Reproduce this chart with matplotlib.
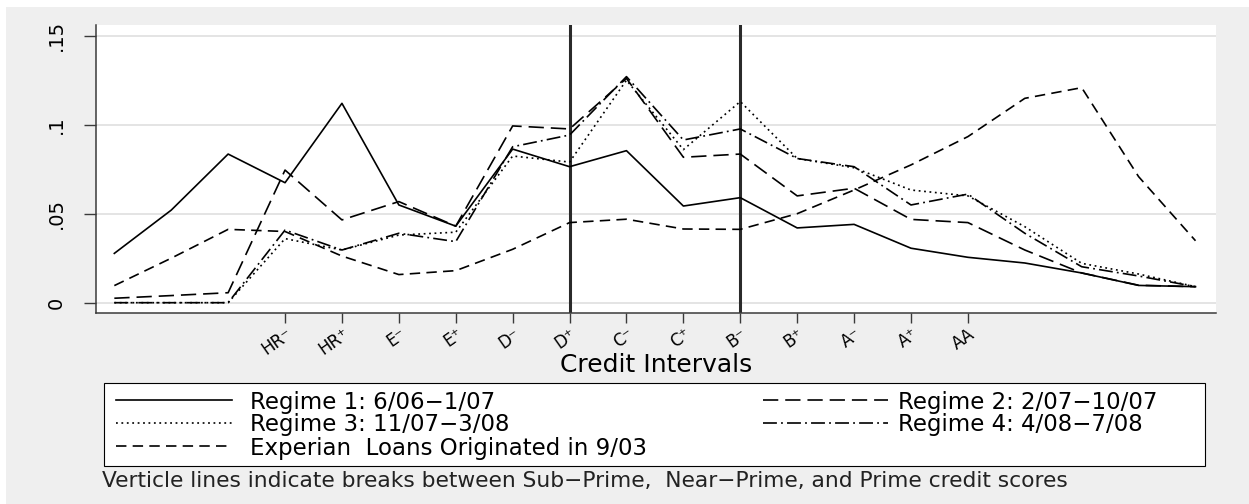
import matplotlib
matplotlib.use("Agg")
import matplotlib.pyplot as plt
from matplotlib.patches import Rectangle

plt.rcParams['lines.scale_dashes'] = False
plt.rcParams['font.family'] = ['DejaVu Sans']

# ---- data ----
positions = list(range(1, 21))
tick_positions = list(range(4, 17))
tick_labels = ["HR⁻", "HR⁺", "E⁻", "E⁺", "D⁻", "D⁺", "C⁻", "C⁺", "B⁻", "B⁺", "A⁻", "A⁺", "AA"]
break_positions = [9, 12]

regime1 = [0.0277, 0.052, 0.0835, 0.0674, 0.112, 0.0549, 0.043, 0.0863, 0.0764, 0.0854,
           0.0543, 0.059, 0.042, 0.044, 0.0306, 0.0255, 0.0223, 0.0167, 0.0097, 0.009]
regime2 = [0.0025, 0.004, 0.0056, 0.0745, 0.0465, 0.0568, 0.043, 0.0993, 0.0976, 0.126,
           0.0817, 0.0835, 0.060, 0.0643, 0.0468, 0.045, 0.0296, 0.0167, 0.0098, 0.009]
regime3 = [0.0, 0.0, 0.0, 0.036, 0.0296, 0.038, 0.0396, 0.0824, 0.079, 0.125,
           0.086, 0.113, 0.081, 0.0758, 0.0633, 0.060, 0.0427, 0.0221, 0.0161, 0.009]
regime4 = [0.0, 0.0, 0.0, 0.0408, 0.0296, 0.039, 0.0343, 0.0876, 0.0942, 0.127,
           0.0914, 0.0976, 0.081, 0.0764, 0.0549, 0.061, 0.039, 0.0202, 0.015, 0.009]
experian = [0.0096, 0.025, 0.0412, 0.040, 0.0262, 0.0158, 0.018, 0.030, 0.045, 0.0469,
            0.0414, 0.0412, 0.050, 0.0633, 0.0774, 0.0933, 0.1148, 0.1208, 0.0708, 0.0348]

labels = ["Regime 1: 6/06\u22121/07", "Regime 2: 2/07\u221210/07", "Regime 3: 11/07\u22123/08",
          "Regime 4: 4/08\u22127/08", "Experian  Loans Originated in 9/03"]
ytick_vals = [0, 0.05, 0.1, 0.15]
ytick_labels = ["0", ".05", ".1", ".15"]
xlabel = "Credit Intervals"
note = "Verticle lines indicate breaks between Sub\u2212Prime,  Near\u2212Prime, and Prime credit scores"

# ---- layout ----
W, H = 1249, 504
def fx(x): return x / W
def fy(y): return 1 - y / H

fig = plt.figure(figsize=(W / 100, H / 100), dpi=100, facecolor="white")
BG = "#efefef"
fig.patches.append(Rectangle((fx(6), 0), 1 - fx(6), fy(7), transform=fig.transFigure,
                             facecolor=BG, edgecolor="none", zorder=-10))

ax = fig.add_axes([fx(96), fy(313), fx(1216) - fx(96), fy(25) - fy(313)])
ax.set_facecolor("white")
ax.set_xlim(0.678, 20.36)
ax.set_ylim(-0.00579, 0.156)

for v in ytick_vals:
    ax.axhline(v, color="#e4e4e4", lw=1.4, zorder=0)

for s in ["top", "right"]:
    ax.spines[s].set_visible(False)
for s in ["left", "bottom"]:
    ax.spines[s].set_color("#3a3a3a")
    ax.spines[s].set_linewidth(1.1)

ax.set_yticks(ytick_vals)
ax.set_yticklabels(ytick_labels, rotation=90, va="center", fontsize=14)
ax.tick_params(axis="y", length=9, width=1.0, color="#3a3a3a", pad=13)
ax.set_xticks(tick_positions)
ax.set_xticklabels(tick_labels, rotation=35, ha="right", va="top",
                   rotation_mode="anchor", fontsize=12)
ax.tick_params(axis="x", length=7, width=1.0, color="#3a3a3a", pad=1.5)

for b in break_positions:
    ax.axvline(b, color="#2a2a2a", lw=2.2, zorder=1)

lw = 1.2
l1, = ax.plot(positions, regime1, color="black", lw=lw, ls="-")
l2, = ax.plot(positions, regime2, color="black", lw=lw, dashes=(11, 5))
l3, = ax.plot(positions, regime3, color="black", lw=lw, dashes=(1.3, 2.6))
l4, = ax.plot(positions, regime4, color="black", lw=lw, dashes=(10, 3, 1.3, 3))
l5, = ax.plot(positions, experian, color="black", lw=lw, dashes=(7.5, 4.5))

fig.text(fx(656), fy(365), xlabel, ha="center", va="center", fontsize=18)

# legend frame
fig.patches.append(Rectangle((fx(104), fy(466)), fx(1205) - fx(104), fy(383) - fy(466),
                             transform=fig.transFigure, facecolor="white",
                             edgecolor="black", lw=0.8, zorder=1))
LFS = 16.5
common = dict(fontsize=LFS, frameon=False, borderpad=0.0, borderaxespad=0,
              labelspacing=0.0, bbox_transform=fig.transFigure, loc="center left")
leg1 = fig.legend([l1, l3, l5], [labels[0], labels[2], labels[4]],
                  bbox_to_anchor=(fx(116), fy(425)), handlelength=5.05,
                  handletextpad=0.79, **common)
leg2 = fig.legend([l2, l4], [labels[1], labels[3]],
                  bbox_to_anchor=(fx(763), fy(413.5)), handlelength=5.45,
                  handletextpad=0.45, **common)

fig.text(fx(102), fy(481), note, ha="left", va="center", fontsize=15.7, color="#222222")

fig.savefig("out.png", dpi=100, facecolor=fig.get_facecolor())
